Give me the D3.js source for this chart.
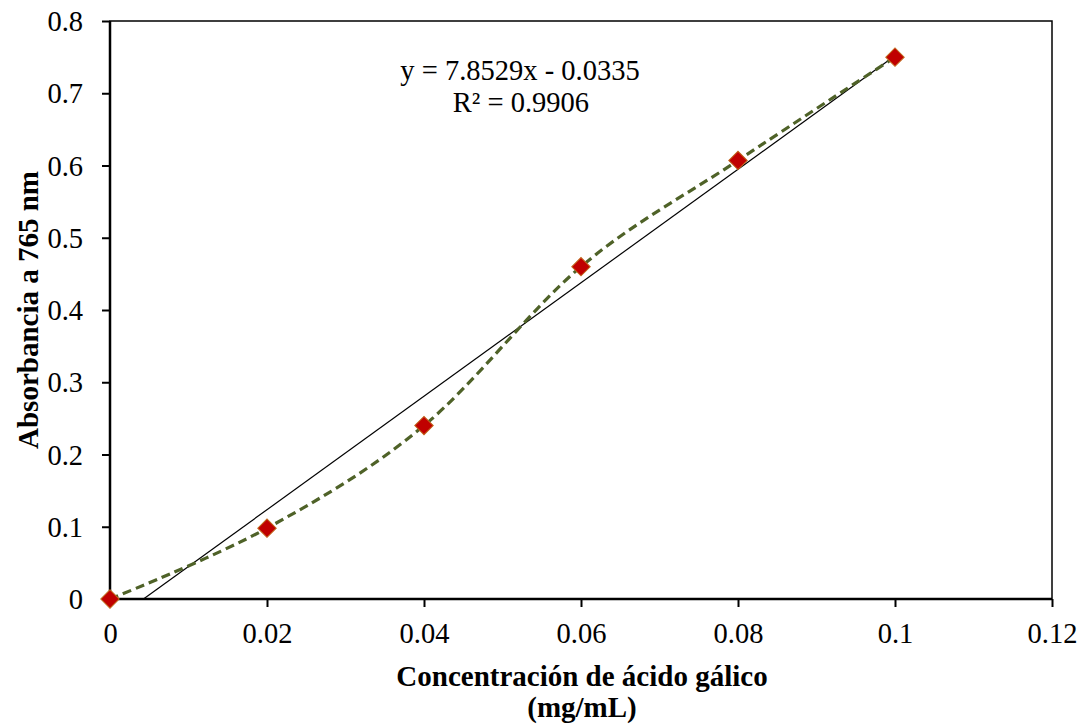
<!DOCTYPE html>
<html>
<head>
<meta charset="utf-8">
<script src="https://cdn.jsdelivr.net/npm/d3@7"></script>
<style>
  html, body { margin: 0; padding: 0; background: #fff; }
  svg { display: block; font-family: "Liberation Serif", "Times New Roman", serif; }
</style>
</head>
<body>
<svg id="chart" width="1086" height="728"></svg>
<script>
const xValues = [0, 0.02, 0.04, 0.06, 0.08, 0.1];
const yValues = [0, 0.098, 0.24, 0.46, 0.607, 0.75];
const xTicks = [0, 0.02, 0.04, 0.06, 0.08, 0.1, 0.12];
const yTicks = [0, 0.1, 0.2, 0.3, 0.4, 0.5, 0.6, 0.7, 0.8];
const equationLines = ["y = 7.8529x - 0.0335", "R² = 0.9906"];
const xTitleLines = ["Concentración de ácido gálico", "(mg/mL)"];
const yTitle = "Absorbancia a 765 nm";

const svg = d3.select("#chart");
const L = 110, R = 1052, T = 21, B = 599;
const FS = "28.5px";
const x = d3.scaleLinear().domain([0, 0.12]).range([L, R]);
const y = d3.scaleLinear().domain([0, 0.8]).range([B, T]);

const data = xValues.map((v, i) => ({x: v, y: yValues[i]}));

// plot border (top/right)
svg.append("rect").attr("x", L).attr("y", T).attr("width", R - L).attr("height", B - T)
  .attr("fill", "none").attr("stroke", "#000").attr("stroke-width", 1.5);

// axes
const xAxis = d3.axisBottom(x).tickValues(xTicks).tickSize(8).tickPadding(16)
  .tickFormat(d => d === 0 ? "0" : String(+d.toFixed(2)));
const gx = svg.append("g").attr("transform", `translate(0,${B})`).call(xAxis);
const yAxis = d3.axisLeft(y).tickValues(yTicks).tickSize(8).tickPadding(19)
  .tickFormat(d => d === 0 ? "0" : String(+d.toFixed(1)));
const gy = svg.append("g").attr("transform", `translate(${L},0)`).call(yAxis);
[gx, gy].forEach(g => {
  g.select(".domain").attr("stroke", "#000").attr("stroke-width", 2.5);
  g.selectAll(".tick line").attr("stroke", "#000").attr("stroke-width", 2);
  g.selectAll(".tick text").attr("fill", "#000").style("font-size", FS)
    .style("font-family", "'Liberation Serif', 'Times New Roman', serif");
});
gy.selectAll(".tick text").attr("dy", "0.34em");
gx.select(".domain").attr("d", `M${L},0H${R}`);
gy.select(".domain").attr("d", `M0,${B}V${T}`);

// linear trend line (least squares from data)
const mx = d3.mean(xValues), my = d3.mean(yValues);
const sxy = d3.sum(xValues.map((v, i) => (v - mx) * (yValues[i] - my)));
const sxx = d3.sum(xValues.map(v => (v - mx) * (v - mx)));
const slope = sxy / sxx, intercept = my - slope * mx;
const x0 = Math.max(0, -intercept / slope), x1 = d3.max(xValues);
svg.append("line")
  .attr("x1", x(x0)).attr("y1", y(slope * x0 + intercept))
  .attr("x2", x(x1)).attr("y2", y(slope * x1 + intercept))
  .attr("stroke", "#000").attr("stroke-width", 1.2);

// smoothed dashed line
const line = d3.line().x(d => x(d.x)).y(d => y(d.y)).curve(d3.curveCardinal.tension(0));
svg.append("path").datum(data).attr("d", line)
  .attr("fill", "none").attr("stroke", "#4f6228").attr("stroke-width", 3.2)
  .attr("stroke-dasharray", "9,5");

// markers
svg.selectAll(".marker").data(data).enter().append("path")
  .attr("class", "marker")
  .attr("d", d3.symbol().type(d3.symbolSquare).size(170))
  .attr("transform", d => `translate(${x(d.x)},${y(d.y)}) rotate(45)`)
  .attr("fill", "#c00000").attr("stroke", "#c0651a").attr("stroke-width", 1);

// equation
svg.append("text").attr("x", 520).attr("y", 80).attr("text-anchor", "middle")
  .style("font-size", FS).text(equationLines[0]);
svg.append("text").attr("x", 521).attr("y", 112).attr("text-anchor", "middle")
  .style("font-size", FS).text(equationLines[1]);

// axis titles
svg.append("text").attr("x", 582).attr("y", 686).attr("text-anchor", "middle")
  .style("font-size", "29px").style("font-weight", "bold").text(xTitleLines[0]);
svg.append("text").attr("x", 582).attr("y", 717).attr("text-anchor", "middle")
  .style("font-size", "29px").style("font-weight", "bold").text(xTitleLines[1]);
svg.append("text").attr("transform", `translate(38,${(T + B) / 2}) rotate(-90)`)
  .attr("text-anchor", "middle")
  .style("font-size", "29px").style("font-weight", "bold").text(yTitle);
</script>
</body>
</html>
